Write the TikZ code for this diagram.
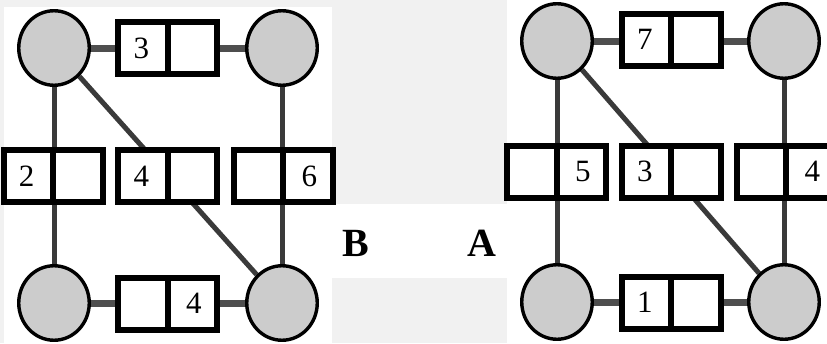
\documentclass[tikz,border=0pt]{standalone}
\usepackage{fontspec}
\setmainfont{Liberation Serif}
\usetikzlibrary{shapes.geometric,shapes.multipart,backgrounds}
\definecolor{panelgray}{RGB}{241,241,241}
\definecolor{vertexgray}{RGB}{204,204,204}
\definecolor{edgegray}{RGB}{58,58,58}
\tikzset{
  graph vertex/.style={ellipse,draw=black,fill=vertexgray,line width=3.4pt,
    minimum width=70.5pt,minimum height=74.5pt,inner sep=0pt},
  weight box/.style={rectangle split,rectangle split horizontal,
    rectangle split parts=2,draw=black,fill=white,line width=6pt,
    text width=46.5pt,align=center,inner xsep=0pt,inner ysep=0pt,
    minimum height=52pt,font=\fontsize{31}{31}\selectfont},
  graph edge/.style={draw=edgegray,line width=5pt},
  rung edge/.style={draw=edgegray!90!white,line width=7pt},
  panel label/.style={font=\fontsize{40}{40}\selectfont\bfseries}
}

\begin{document}
\begin{tikzpicture}[x=1pt,y=-1pt]
    \useasboundingbox (0,0) rectangle (827,343);
    \clip (0,0) rectangle (827,343);
    % panel B
    \node[graph vertex] (Bnw) at (54,48) {};
    \node[graph vertex] (Bne) at (282,48) {};
    \node[graph vertex] (Bsw) at (54,303) {};
    \node[graph vertex] (Bse) at (282,303) {};
    \node[weight box] (Bnorth) at (167.5,48) {3\nodepart{two}};
    \node[weight box] (Bwest) at (53,176) {2\nodepart{two}};
    \node[weight box] (Bcentre) at (167.5,176) {4\nodepart{two}};
    \node[weight box] (Beast) at (283,176) {\nodepart{two}6};
    \node[weight box] (Bsouth) at (167.5,303.5) {\nodepart{two}4};
    % panel A
    \node[graph vertex] (Anw) at (557,41) {};
    \node[graph vertex] (Ane) at (784,41) {};
    \node[graph vertex] (Asw) at (557,302) {};
    \node[graph vertex] (Ase) at (784,302) {};
    \node[weight box] (Anorth) at (671,39.5) {7\nodepart{two}};
    \node[weight box] (Awest) at (556.5,171.5) {\nodepart{two}5};
    \node[weight box] (Acentre) at (671,171.5) {3\nodepart{two}};
    \node[weight box] (Aeast) at (786,171.5) {\nodepart{two}4};
    \node[weight box] (Asouth) at (671,302.5) {1\nodepart{two}};
    \node[panel label] (Blabel) at (356,243.5) {B};
    \node[panel label] (Alabel) at (482,243.5) {A};
    \begin{pgfonlayer}{background}
      \fill[panelgray] (0,0) rectangle (827,343);
      \fill[white] (4,7) rectangle (332,343);
      \fill[white] (332,204) rectangle (507,278);
      \fill[white] (507,0) rectangle (827,343);
      \foreach \p in {B,A} {
        \foreach \from/\to in {nw/sw,ne/se,nw/se}
          \draw[graph edge] (\p\from) -- (\p\to);
        \foreach \from/\to in {nw/ne,sw/se}
          \draw[rung edge] (\p\from) -- (\p\to);
      }
    \end{pgfonlayer}
  \end{tikzpicture}
\end{document}
